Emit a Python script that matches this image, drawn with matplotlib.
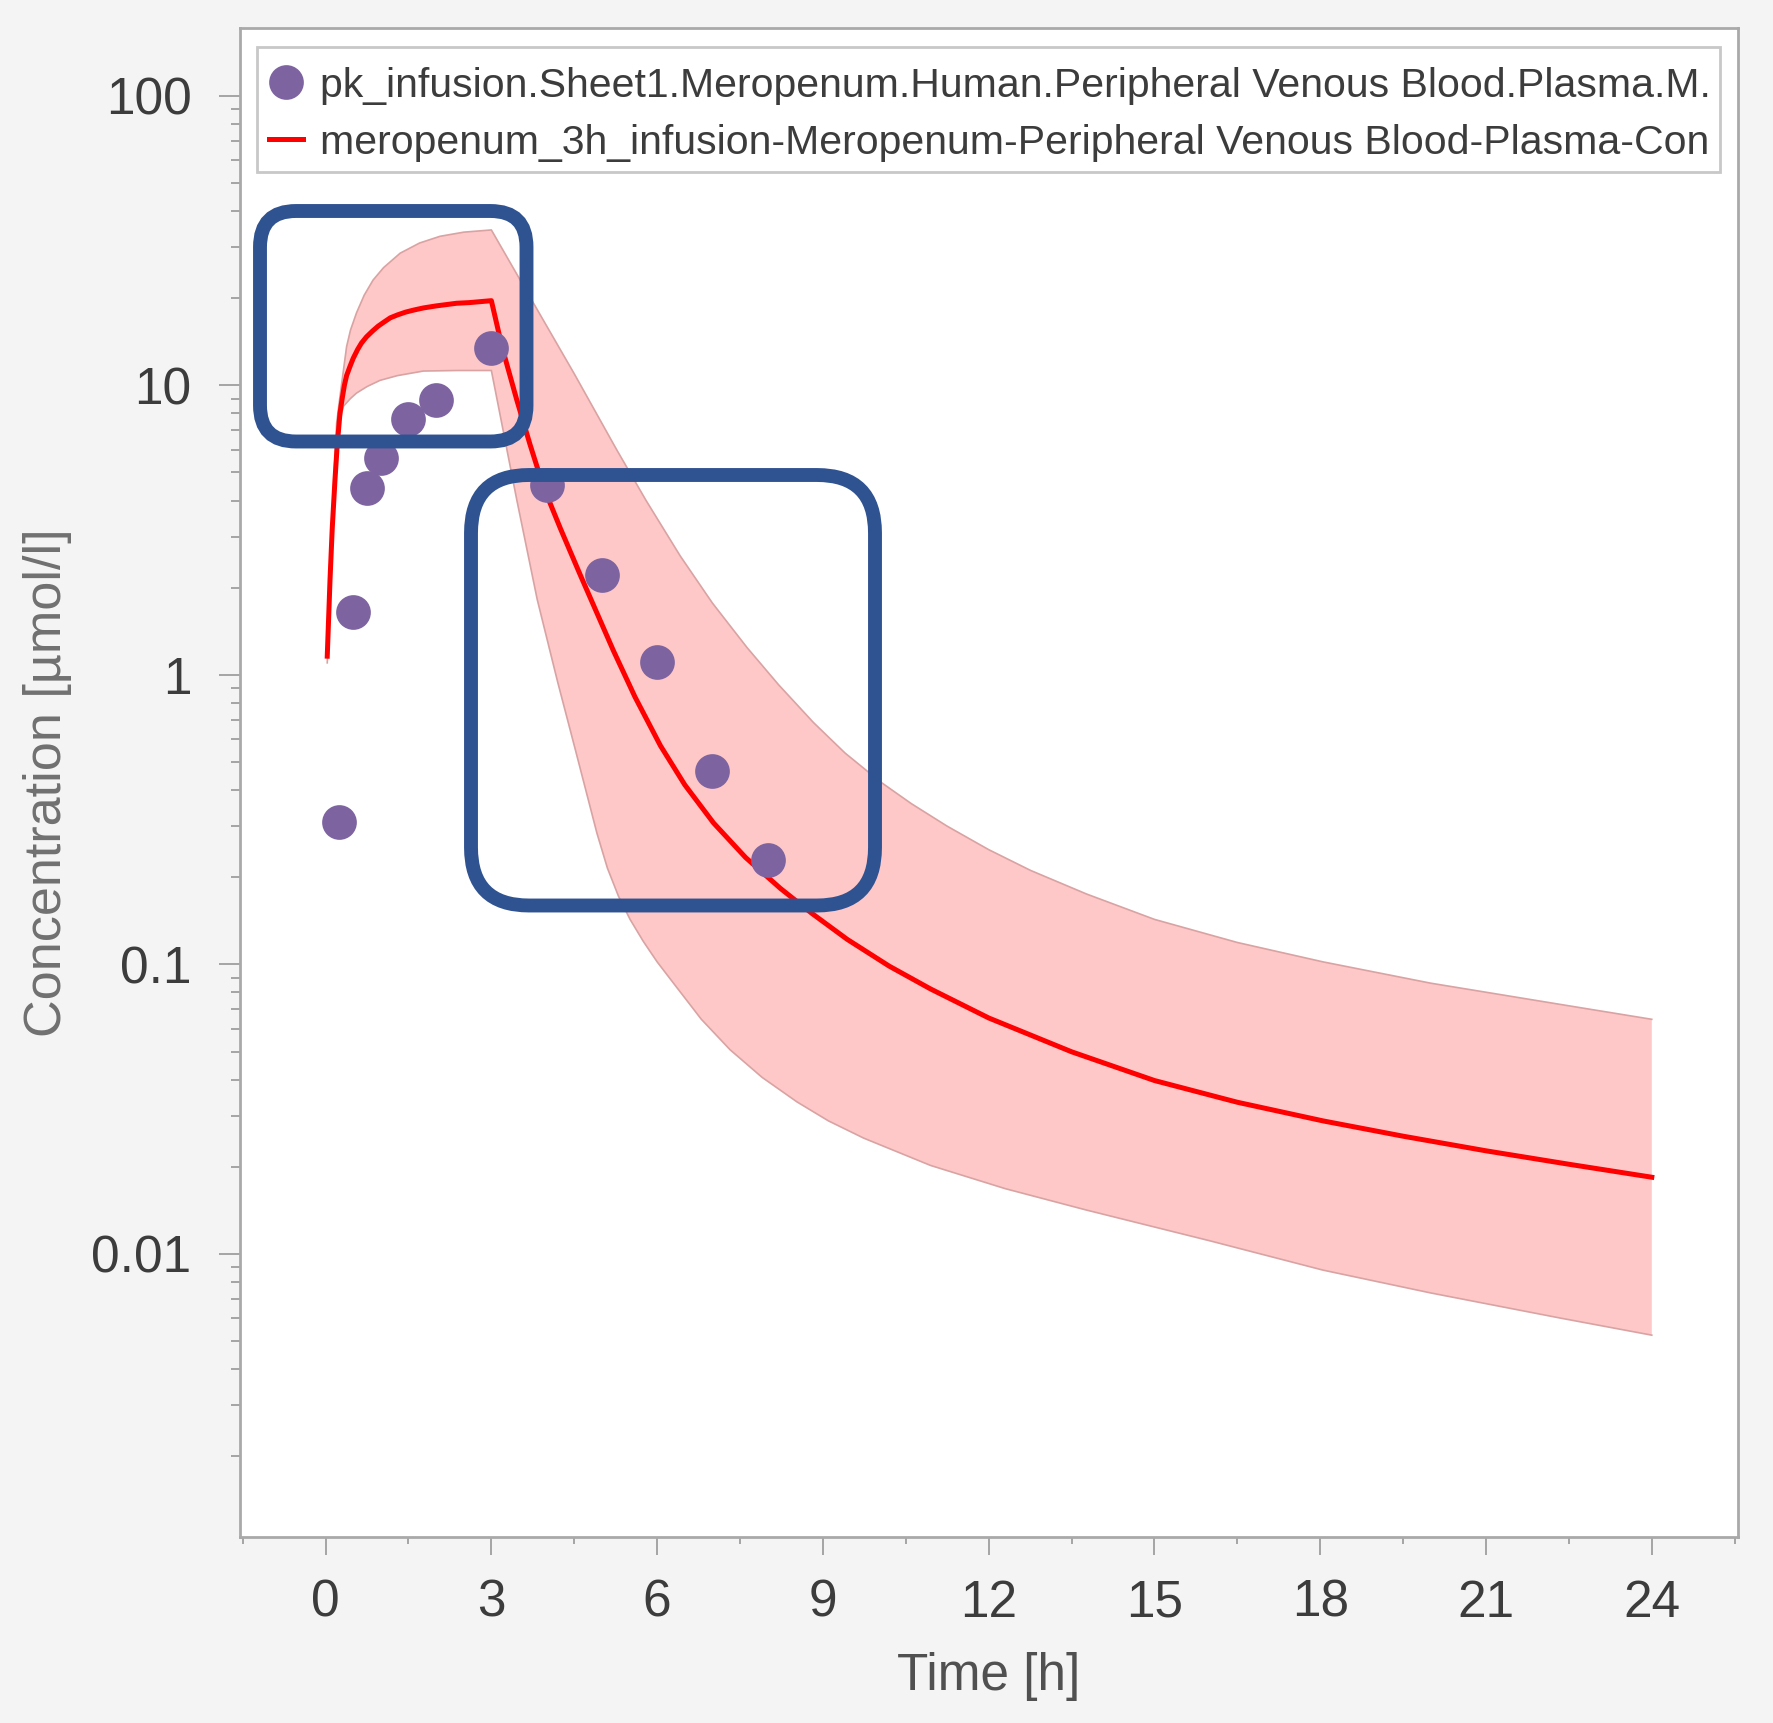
import numpy as np
import matplotlib
matplotlib.use("Agg")
import matplotlib.pyplot as plt
from matplotlib.patches import Rectangle, FancyBboxPatch
from matplotlib.ticker import FixedLocator, NullFormatter, MultipleLocator, LogLocator

# ---------------- data ----------------
obs_t = [0.25, 0.5, 0.75, 1.0, 1.5, 2.0, 3.0, 4.0, 5.0, 6.0, 7.0, 8.0]
obs_c = [0.31, 1.65, 4.42, 5.63, 7.64, 8.87, 13.4, 4.53, 2.22, 1.11, 0.467, 0.23]

sim_t = [0.03, 0.08, 0.12, 0.17, 0.21, 0.26, 0.30, 0.34, 0.38, 0.44, 0.50, 0.58,
         0.65, 0.74, 0.85, 0.95, 1.05, 1.17, 1.30, 1.45, 1.60, 1.77, 2.0, 2.37,
         2.6, 3.0, 3.2, 3.46, 3.7, 3.94, 4.25, 4.61, 5.21, 5.6, 6.06, 6.5,
         7.02, 7.6, 8.23, 8.8, 9.44, 10.2, 10.95, 12.0, 13.5, 15.0, 16.5, 18.05,
         19.5, 21.0, 22.5, 24.0]
sim_c = [1.16, 2.13, 3.2, 4.72, 6.2, 8.0, 9.0, 10.0, 10.8, 11.6, 12.4, 13.3,
         14.0, 14.7, 15.4, 16.0, 16.5, 17.1, 17.5, 17.9, 18.2, 18.5, 18.8, 19.2,
         19.3, 19.6, 13.4, 8.9, 6.24, 4.47, 3.20, 2.21, 1.21, 0.838, 0.569, 0.417,
         0.308, 0.234, 0.183, 0.150, 0.122, 0.0986, 0.0822, 0.0653, 0.0499, 0.0397, 0.0334, 0.0288,
         0.0255, 0.0227, 0.0204, 0.0184]

upper_t = [0.03, 0.1, 0.2, 0.26, 0.38, 0.45, 0.56, 0.7, 0.86, 1.05, 1.35, 1.7,
           2.07, 2.5, 3.0, 3.73, 4.5, 5.27, 5.8, 6.42, 7.0, 7.63, 8.2, 8.83,
           9.4, 10.04, 10.6, 11.25, 12.0, 12.76, 13.77, 15.0, 16.5, 18.05, 20.0, 22.33,
           24.0]
upper_c = [1.2, 3.0, 7.4, 9.15, 13.6, 15.5, 17.8, 20.5, 23.1, 25.5, 28.6, 31.0,
           32.7, 33.8, 34.4, 19.7, 10.96, 5.98, 4.0, 2.57, 1.77, 1.24, 0.923, 0.684,
           0.537, 0.427, 0.359, 0.300, 0.249, 0.211, 0.175, 0.143, 0.119, 0.102, 0.0861, 0.0728,
           0.0646]

lower_t = [0.03, 0.08, 0.17, 0.24, 0.32, 0.45, 0.56, 0.75, 0.985, 1.3, 1.77, 2.4,
           3.0, 3.46, 3.83, 4.2, 4.52, 4.91, 5.1, 5.3, 5.51, 5.75, 6.0, 6.3,
           6.8, 7.32, 7.9, 8.53, 9.1, 9.74, 10.95, 12.3, 13.77, 16.0, 18.05, 20.0,
           22.33, 24.0]
lower_c = [1.1, 2.0, 4.3, 7.2, 8.45, 9.0, 9.4, 9.9, 10.4, 10.8, 11.2, 11.25,
           11.25, 4.02, 1.82, 0.944, 0.551, 0.284, 0.215, 0.172, 0.143, 0.120, 0.102, 0.0859,
           0.0646, 0.0507, 0.0407, 0.0335, 0.0288, 0.0251, 0.0202, 0.0168, 0.01417, 0.0111, 0.00879, 0.00733,
           0.00601, 0.00524]

x_ticks = [0, 3, 6, 9, 12, 15, 18, 21, 24]
y_ticks = [0.01, 0.1, 1, 10, 100]
y_tick_labels = ["0.01", "0.1", "1", "10", "100"]

label_obs = "pk_infusion.Sheet1.Meropenum.Human.Peripheral Venous Blood.Plasma.M."
label_sim = "meropenum_3h_infusion-Meropenum-Peripheral Venous Blood-Plasma-Con"

# ---------------- styling ----------------
FONT = ["Liberation Sans", "DejaVu Sans"]
W, H = 1773, 1723

fig = plt.figure(figsize=(W / 100, H / 100), dpi=100, facecolor="#F4F4F4")
L, R, T, B = 240, 1738, 28.3, 1537.3
ax = fig.add_axes([L / W, 1 - B / H, (R - L) / W, (B - T) / H])
ax.set_facecolor("white")

# variability band
band_t = list(upper_t) + list(lower_t)[::-1]
band_c = list(upper_c) + list(lower_c)[::-1]
ax.fill(band_t, band_c, facecolor="#FFC8C8", edgecolor="none", zorder=1)
ax.plot(upper_t, upper_c, color="#D9A3A3", lw=1.2, zorder=2)
ax.plot(lower_t, lower_c, color="#D9A3A3", lw=1.2, zorder=2)

ln, = ax.plot(sim_t, sim_c, color="#FF0000", lw=3.6, zorder=3, label=label_sim)
pts, = ax.plot(obs_t, obs_c, ls="none", marker="o", ms=25, color="#7D64A0",
               markeredgewidth=0, zorder=4, label=label_obs)

ax.set_yscale("log")
ax.set_xlim(-1.549, 25.56)
ax.set_ylim(0.00105, 171)

ax.xaxis.set_major_locator(FixedLocator(x_ticks))
ax.xaxis.set_minor_locator(MultipleLocator(1.5))
ax.yaxis.set_major_locator(FixedLocator(y_ticks))
ax.set_yticklabels(y_tick_labels)
ax.yaxis.set_minor_locator(LogLocator(base=10, subs=np.arange(2, 10)))
ax.yaxis.set_minor_formatter(NullFormatter())

tc = "#A4A4A4"
ax.tick_params(axis="x", which="major", length=13, width=1.4, color=tc, pad=17,
               labelsize=37, labelcolor="#3C3C3C")
ax.tick_params(axis="x", which="minor", length=5, width=1.4, color=tc)
ax.tick_params(axis="y", which="major", length=15, width=1.4, color=tc, pad=20,
               labelsize=37, labelcolor="#3C3C3C")
ax.tick_params(axis="y", which="minor", length=6.5, width=1.4, color=tc)
for lab in ax.get_xticklabels() + ax.get_yticklabels():
    lab.set_family(FONT)

for s in ax.spines.values():
    s.set_color("#A9A9A9")
    s.set_linewidth(2)

ax.set_ylabel("Concentration [µmol/l]", fontsize=37.5, color="#707070", family=FONT)
ax.yaxis.set_label_coords(-0.112, 0.5)
ax.set_xlabel("Time [h]", fontsize=37, color="#505050", family=FONT)
ax.xaxis.set_label_coords(0.5, -0.076)

# legend frame + legend
fx0, fx1 = (257 - L) / (R - L), (1720 - L) / (R - L)
fy1, fy0 = (B - 46.7) / (B - T), (B - 171.7) / (B - T)
frame = Rectangle((fx0, fy0), fx1 - fx0, fy1 - fy0, transform=ax.transAxes,
                  facecolor="white", edgecolor="#C8C8C8", lw=2, zorder=5)
ax.add_patch(frame)

leg = ax.legend(handles=[pts, ln], loc="upper left",
                bbox_to_anchor=((269 - L) / (R - L), (B - 66.7) / (B - T)),
                frameon=False, borderpad=0, borderaxespad=0, labelspacing=0.46,
                handlelength=0.82, handletextpad=0.42,
                prop={"family": FONT, "size": 29.5})
leg.set_zorder(6)
for t in leg.get_texts():
    t.set_color("#3C3C3C")

# annotation boxes (figure pixel positions converted to inches)
box_color = "#2F5291"
for (left, top, right, bottom, r) in [(260, 211, 526.5, 441.5, 0.36),
                                      (471, 475, 875, 905.5, 0.58)]:
    p = FancyBboxPatch((left / 100, (H - bottom) / 100), (right - left) / 100,
                       (bottom - top) / 100,
                       boxstyle=f"round,pad=0,rounding_size={r}",
                       transform=fig.dpi_scale_trans, fill=False,
                       edgecolor=box_color, lw=10, zorder=10)
    fig.add_artist(p)

fig.savefig("out.png", dpi=100, facecolor=fig.get_facecolor())
